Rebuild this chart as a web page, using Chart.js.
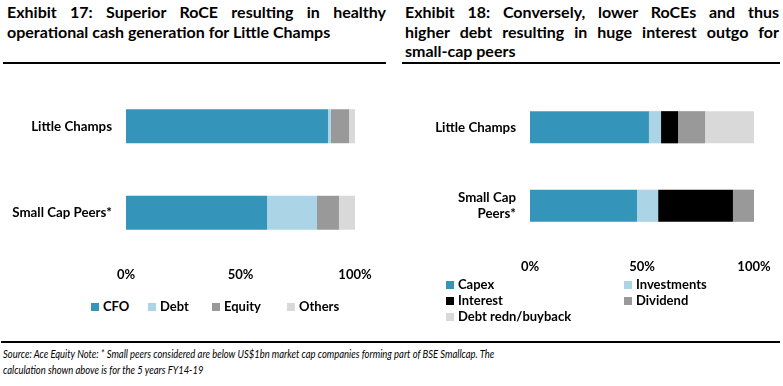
<!DOCTYPE html>
<html><head><meta charset="utf-8">
<script src="https://cdn.jsdelivr.net/npm/chart.js@4.4.0/dist/chart.umd.min.js"></script>
<style>
html,body{margin:0;padding:0;background:#fff;}
body{width:783px;height:386px;position:relative;overflow:hidden;font-family:Lato,"Open Sans",sans-serif;color:#000;}
.t{position:absolute;font-weight:bold;font-size:16px;line-height:20px;white-space:nowrap;}
.j{text-align:justify;text-align-last:justify;white-space:normal;}
.rule{position:absolute;background:#000;height:1.5px;}
canvas{position:absolute;}
.leg{position:absolute;font-weight:bold;font-size:13px;line-height:14px;white-space:nowrap;}
.leg i{display:inline-block;width:8px;height:8px;margin-right:4px;vertical-align:0px;}
.src{position:absolute;left:3px;top:346px;font-style:italic;font-size:11.5px;line-height:16px;white-space:nowrap;transform:scaleX(0.82);transform-origin:0 0;}
</style></head>
<body>
<div class="t j" style="left:7px;top:2px;width:379px;">Exhibit 17: Superior RoCE resulting in healthy</div>
<div class="t" style="left:7px;top:22px;">operational cash generation for Little Champs</div>
<div class="rule" style="left:3px;top:62px;width:383px;"></div>

<div class="t j" style="left:405px;top:2px;width:374px;">Exhibit 18: Conversely, lower RoCEs and thus</div>
<div class="t j" style="left:405px;top:21.5px;width:374px;">higher debt resulting in huge interest outgo for</div>
<div class="t" style="left:405px;top:40.5px;">small-cap peers</div>
<div class="rule" style="left:402px;top:62px;width:378px;"></div>

<canvas id="c1" width="392" height="224" style="left:0;top:66px;"></canvas>
<canvas id="c2" width="391" height="209" style="left:392px;top:66px;"></canvas>
<div id="leg1"></div>
<div id="leg2"></div>

<div class="rule" style="left:1px;top:341px;width:779px;"></div>
<div class="src">Source: Ace Equity Note: * Small peers considered are below US$1bn market cap companies forming part of BSE Smallcap. The<br>calculation shown above is for the 5 years FY14-19</div>

<script>
// ---- data ----
const categoriesLeft = ['Little Champs', 'Small Cap Peers*'];
const categoriesRight = [['Little Champs'], ['Small Cap', 'Peers*']];
const xTickLabels = ['0%', '50%', '100%'];

const seriesLeftNames = ['CFO', 'Debt', 'Equity', 'Others'];
const cfo = [88.2, 61.6];
const debt = [1.3, 21.8];
const equity = [7.9, 9.6];
const others = [2.6, 7.0];

const seriesRightNames = ['Capex', 'Investments', 'Interest', 'Dividend', 'Debt redn/buyback'];
const capex = [53.1, 47.8];
const investments = [5.4, 9.4];
const interest = [7.6, 33.4];
const dividend = [12.1, 9.4];
const debtRedn = [21.8, 0];

// ---- styles ----
const colorsLeft = ['#3494BA', '#ABD5E6', '#999999', '#D9D9D9'];
const colorsRight = ['#3494BA', '#ABD5E6', '#000000', '#999999', '#D9D9D9'];
const FONT = 'Lato, "Open Sans", sans-serif';

function makeChart(id, labels, names, values, colors, opt) {
  return new Chart(document.getElementById(id), {
    type: 'bar',
    data: {
      labels: labels,
      datasets: names.map((n, i) => ({
        label: n, data: values[i], backgroundColor: colors[i], borderWidth: 0,
        categoryPercentage: 1, barPercentage: opt.barPct
      }))
    },
    options: {
      indexAxis: 'y', responsive: false, animation: false,
      layout: { padding: { top: opt.padTop, right: opt.padRight, left: 0, bottom: 0 } },
      plugins: { legend: { display: false }, tooltip: { enabled: false } },
      scales: {
        x: {
          stacked: true, min: 0, max: 100,
          grid: { display: false, drawTicks: false }, border: { display: false },
          afterFit: s => { s.height = opt.xH; s.paddingLeft = 0; s.paddingRight = 0; },
          ticks: {
            stepSize: 50, padding: opt.xPad, color: '#000',
            font: { family: FONT, size: 13, weight: 'bold' },
            callback: (v) => xTickLabels[v / 50]
          }
        },
        y: {
          stacked: true,
          grid: { display: false, drawTicks: false }, border: { display: false },
          afterFit: s => { s.width = opt.yW; s.paddingTop = 0; s.paddingBottom = 0; },
          ticks: { padding: 14, color: '#000', font: { family: FONT, size: 13.3, weight: 'bold', lineHeight: 1.2 } }
        }
      }
    }
  });
}

makeChart('c1', categoriesLeft, seriesLeftNames, [cfo, debt, equity, others], colorsLeft,
  { barPct: 0.393, padTop: 17, padRight: 37, xH: 34, xPad: 11, yW: 126 });
makeChart('c2', categoriesRight, seriesRightNames, [capex, investments, interest, dividend, debtRedn], colorsRight,
  { barPct: 0.41, padTop: 22, padRight: 29, xH: 30, xPad: 14, yW: 138 });

// ---- legends (HTML) ----
function legendItem(parent, name, color, x, y) {
  const d = document.createElement('div');
  d.className = 'leg';
  d.style.left = x + 'px'; d.style.top = (y - 7) + 'px';
  d.innerHTML = '<i style="background:' + color + '"></i>' + name;
  document.getElementById(parent).appendChild(d);
}
const leg1X = [91, 148, 212, 287];
seriesLeftNames.forEach((n, i) => legendItem('leg1', n, colorsLeft[i], leg1X[i], 306));
const leg2Pos = [[446, 284], [624, 284], [446, 300], [624, 300], [446, 316]];
seriesRightNames.forEach((n, i) => legendItem('leg2', n, colorsRight[i], leg2Pos[i][0], leg2Pos[i][1]));
</script>
</body></html>
